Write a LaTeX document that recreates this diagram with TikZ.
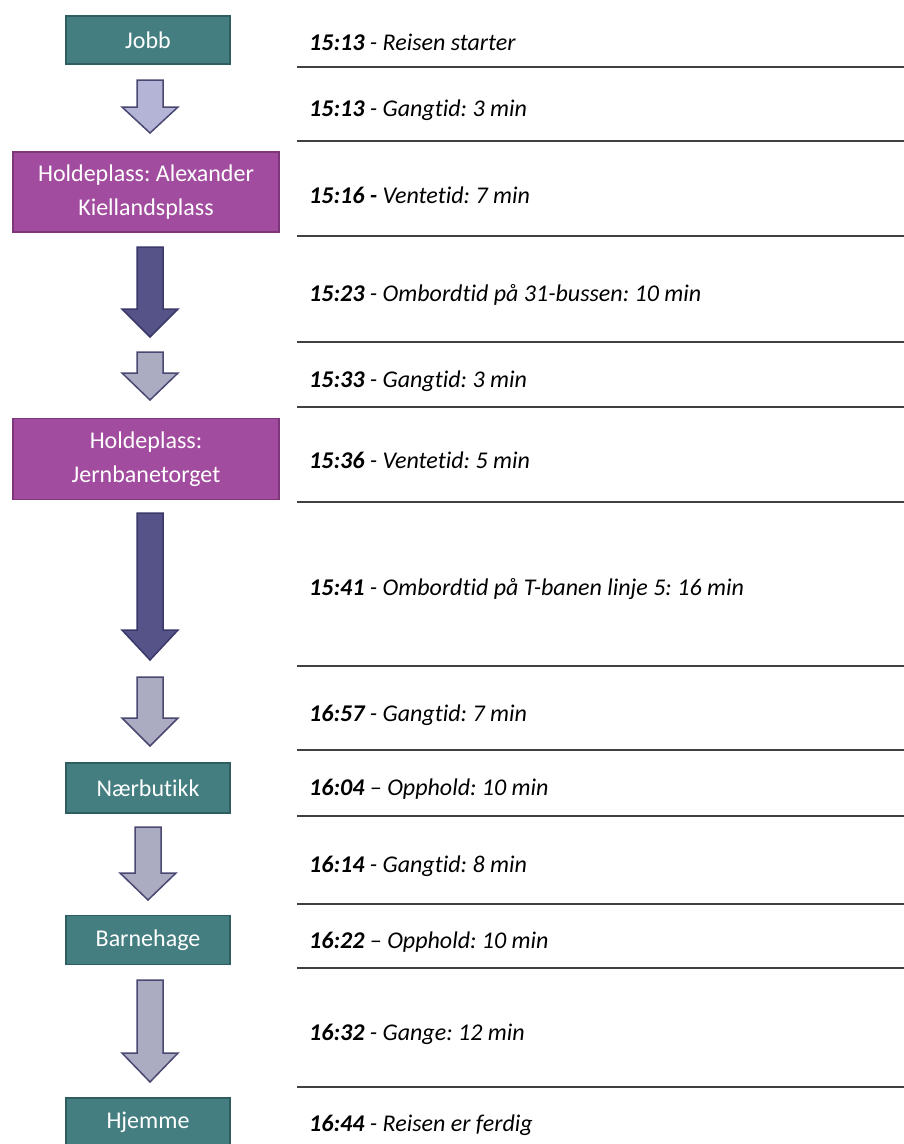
\documentclass[tikz,border=0pt]{standalone}
\usepackage{fontspec}
\setmainfont[Ligatures=NoCommon]{Carlito}
\frenchspacing
\begin{document}
\begin{tikzpicture}[x=1pt,y=-1pt,
  teal/.style={draw=tealB,fill=tealF,line width=1.5pt,minimum width=164pt,text=white,font=\fontsize{24}{29}\selectfont,inner sep=0pt,align=center},
  purp/.style={draw=purpB,fill=purpF,line width=1.5pt,minimum width=266pt,text=white,font=\fontsize{24}{34}\selectfont,inner sep=0pt,align=center},
  lbl/.style={anchor=west,font=\fontsize{24}{29}\selectfont\itshape,inner sep=0pt},
  rule/.style={draw=ruleC,line width=1.5pt},
  lightarr/.style={draw=arrB,fill=arrL,line width=1.5pt,line join=miter},
  lavarr/.style={draw=arrB,fill=arrV,line width=1.5pt,line join=miter},
  darkarr/.style={draw=arrDB,fill=arrD,line width=1.5pt,line join=miter}]
\definecolor{tealF}{HTML}{447E80}
\definecolor{tealB}{HTML}{2F5E60}
\definecolor{purpF}{HTML}{A24C9F}
\definecolor{purpB}{HTML}{7C3679}
\definecolor{arrL}{HTML}{ABABC2}
\definecolor{arrV}{HTML}{B4B4D6}
\definecolor{arrB}{HTML}{4A4872}
\definecolor{arrD}{HTML}{555388}
\definecolor{arrDB}{HTML}{3A3868}
\definecolor{ruleC}{HTML}{404040}
\useasboundingbox (0,0) rectangle (904,1144);
\begin{scope}
\clip (0,0) rectangle (904,1144);
% boxes
\node[teal,minimum height=48pt] (jobb) at (148,40) {Jobb};
\node[purp,minimum height=80pt] (alex) at (146,192) {\raisebox{-10pt}{\shortstack{Holdeplass: Alexander\\[10pt]Kiellandsplass}}};
\node[purp,minimum height=81pt] (jern) at (146,459) {\raisebox{-10pt}{\shortstack{Holdeplass:\\[10pt]Jernbanetorget}}};
\node[teal,minimum height=50pt] (naer) at (148,788) {Nærbutikk};
\node[teal,minimum height=49pt] (barn) at (148,940) {Barnehage};
\node[teal,minimum height=48pt] (hjem) at (148,1122) {Hjemme};
\end{scope}
% arrows
\newcommand\flowarr[5]{% style, top, headstart, tip, center
  \draw[#1] (#5-13,#2) -- (#5+13,#2) -- (#5+13,#3) -- (#5+28,#3) -- (#5,#4) -- (#5-28,#3) -- (#5-13,#3) -- cycle;}
\flowarr{lavarr}{80}{107}{133}{150}
\flowarr{darkarr}{247}{309}{337}{150}
\flowarr{lightarr}{352}{373}{400}{150}
\flowarr{darkarr}{513}{630}{660}{150}
\flowarr{lightarr}{677}{718}{746}{150}
\flowarr{lightarr}{827}{873}{900}{148}
\flowarr{lightarr}{980}{1053}{1082}{150}
% rules
\foreach \yy/\nm in {67/r1,141/r2,236/r3,342/r4,407/r5,502/r6,666/r7,750/r8,816/r9,904/r10,968/r11,1087/r12}{
  \coordinate (\nm a) at (297,\yy);
  \coordinate (\nm b) at (904,\yy);
  \draw[rule] (\nm a) -- (\nm b);
}
% labels
\node[lbl] (t1) at (309,42) {\textbf{15:13} - Reisen starter};
\node[lbl] (t2) at (309,110) {\textbf{15:13} - Gangtid: 3 min};
\node[lbl] (t3) at (309,195) {\textbf{15:16 -} Ventetid: 7 min};
\node[lbl] (t4) at (309,295) {\textbf{15:23} - Ombordtid på 31-bussen: 10 min};
\node[lbl] (t5) at (309,381) {\textbf{15:33} - Gangtid: 3 min};
\node[lbl] (t6) at (309,460) {\textbf{15:36} - Ventetid: 5 min};
\node[lbl] (t7) at (309,589) {\textbf{15:41} - Ombordtid på T-banen linje 5: 16 min};
\node[lbl] (t8) at (309,715) {\textbf{16:57} - Gangtid: 7 min};
\node[lbl] (t9) at (309,789) {\textbf{16:04} – Opphold: 10 min};
\node[lbl] (t10) at (309,866) {\textbf{16:14} - Gangtid: 8 min};
\node[lbl] (t11) at (309,942) {\textbf{16:22} – Opphold: 10 min};
\node[lbl] (t12) at (309,1034) {\textbf{16:32} - Gange: 12 min};
\node[lbl] (t13) at (309,1125) {\textbf{16:44} - Reisen er ferdig};
\end{tikzpicture}
\end{document}
